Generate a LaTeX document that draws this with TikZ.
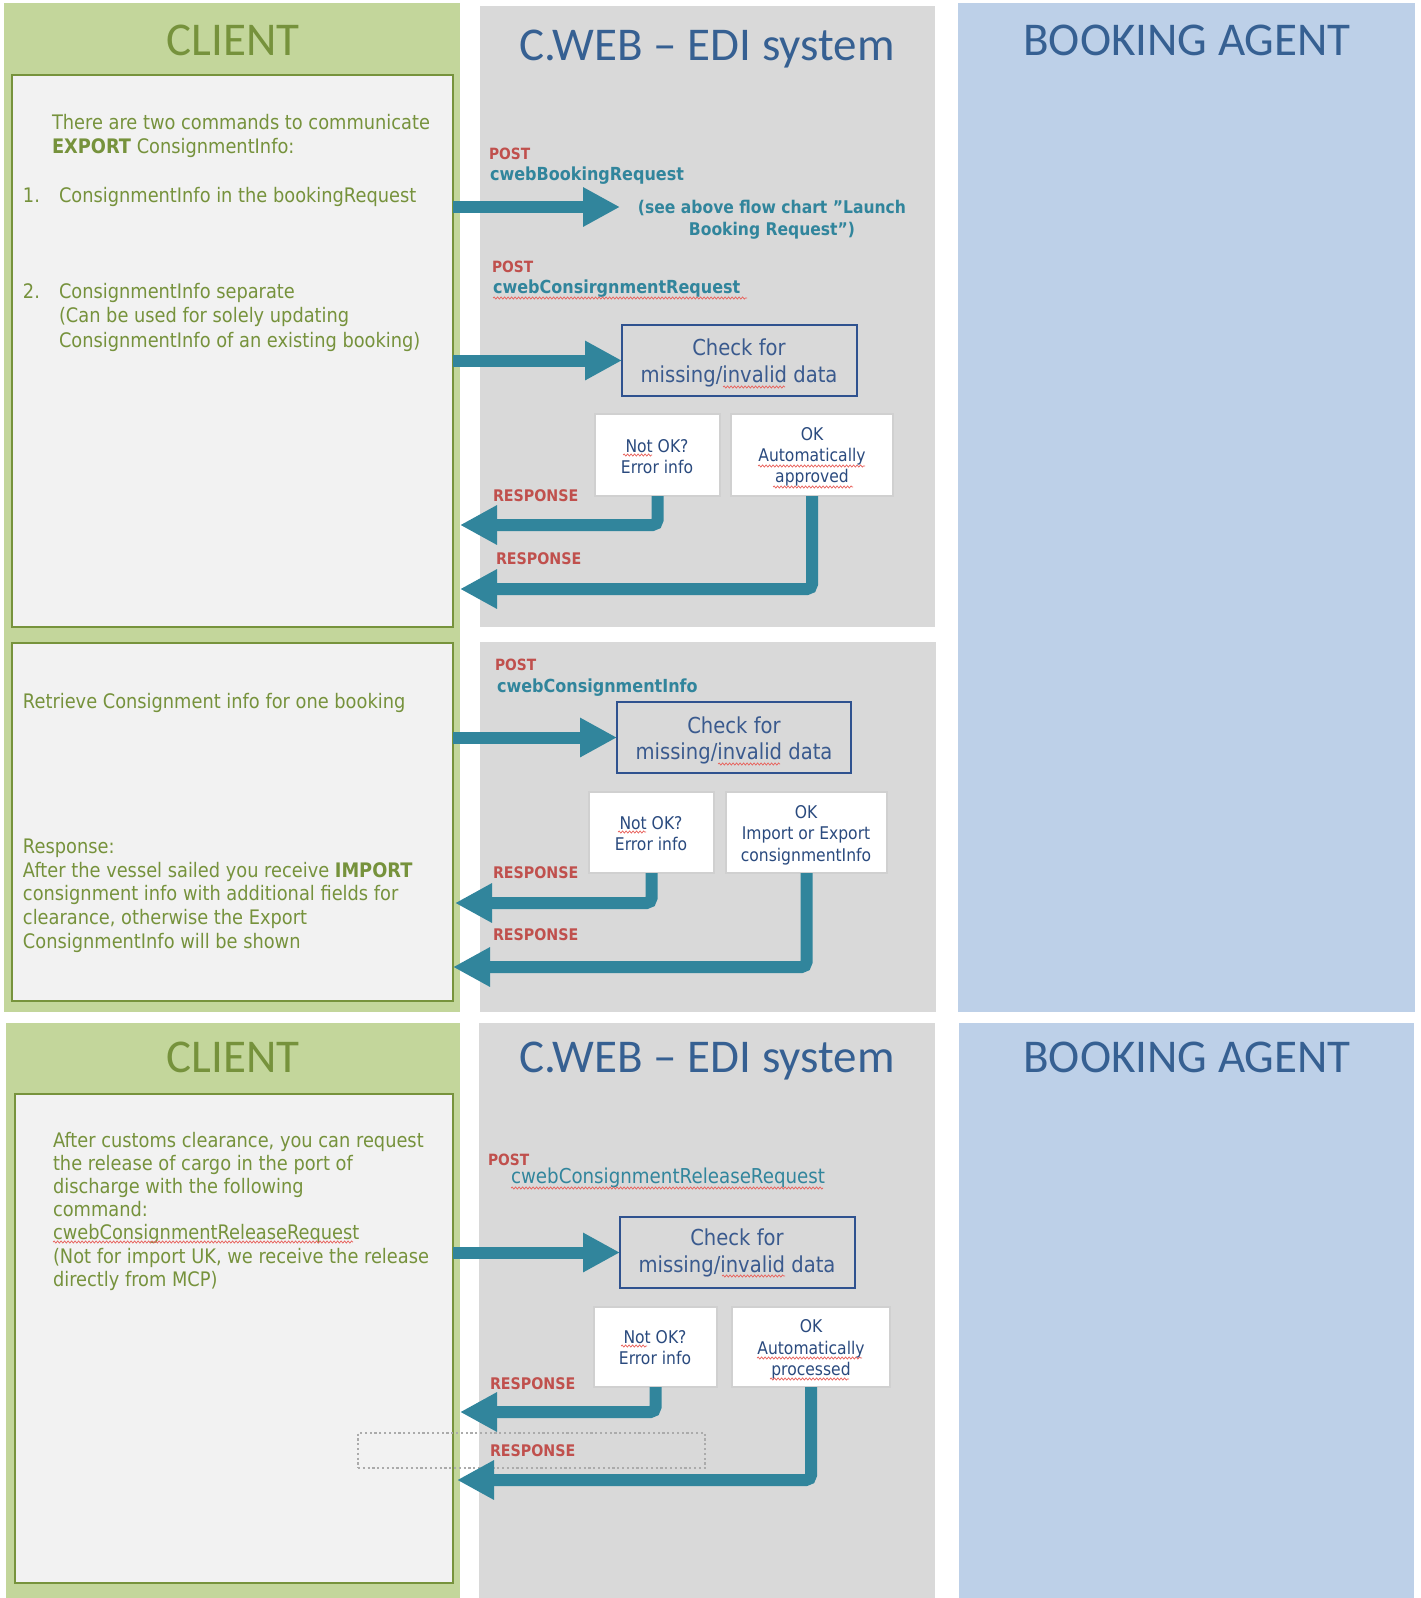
\documentclass[tikz,border=0pt]{standalone}
\usepackage{fontspec}
\setmainfont{DejaVu Sans}[FakeStretch=0.89]
\newfontfamily\titlef{Carlito}
\usetikzlibrary{arrows.meta,fit,decorations.pathmorphing}
\definecolor{gpanel}{HTML}{C3D69B}
\definecolor{ginner}{HTML}{F2F2F2}
\definecolor{gline}{HTML}{77933C}
\definecolor{olive}{HTML}{76923C}
\definecolor{greyp}{HTML}{D9D9D9}
\definecolor{bluep}{HTML}{BDD0E8}
\definecolor{titleblue}{HTML}{366092}
\definecolor{tealc}{HTML}{31859C}
\definecolor{redc}{HTML}{C0504D}
\definecolor{chkblue}{HTML}{2F528F}
\definecolor{chktext}{HTML}{3A5A8E}
\definecolor{boxtext}{HTML}{2A4A7E}
\definecolor{boxline}{HTML}{D0D0D0}
\definecolor{dotc}{HTML}{ABABAB}
\definecolor{squig}{HTML}{E8605A}
\tikzset{
  area/.style={inner sep=0pt, outer sep=0pt, draw=none},
  inbox/.style={area, fill=ginner, draw=gline, line width=1.5pt},
  chkbox/.style={area, draw=chkblue, line width=1.5pt},
  smbox/.style={area, fill=white, draw=boxline, line width=1.5pt},
  txt/.style={inner sep=0pt, outer sep=0pt, anchor=base west},
  ctxt/.style={inner sep=0pt, outer sep=0pt, anchor=base},
  ttl/.style={ctxt, font=\titlef\fontsize{47}{56}\selectfont},
  olv/.style={txt, text=olive, font=\fontsize{20}{24}\selectfont},
  cw/.style={txt, text=tealc, font=\bfseries\fontsize{18}{21}\selectfont},
  pst/.style={txt, text=redc, font=\bfseries\fontsize{15.5}{18}\selectfont},
  rsp/.style={txt, text=redc, font=\bfseries\fontsize{16}{19}\selectfont},
  seet/.style={ctxt, text=tealc, font=\bfseries\fontsize{17.5}{21}\selectfont},
  chkt/.style={ctxt, text=chktext, font=\fontsize{22}{26}\selectfont},
  smt/.style={ctxt, text=boxtext, font=\fontsize{17.5}{21}\selectfont},
  bigarrow/.style={draw=tealc, line width=12pt, rounded corners=5pt,
    -{Triangle[length=37pt,width=37pt]}},
  spell/.style={draw=squig, line width=0.7pt, decorate,
    decoration={snake, amplitude=1.1pt, segment length=3.5pt}},
}
\begin{document}
\begin{tikzpicture}[x=1pt,y=-1pt]
\useasboundingbox (0,0) rectangle (1421,1598);
% ---------- panels ----------
\node[area, fill=gpanel, fit={(4,3) (460,1012)}] (G1) {};
\node[area, fill=greyp, fit={(480,6) (935,627)}] (S1) {};
\node[area, fill=greyp, fit={(480,642) (936,1012)}] (S2) {};
\node[area, fill=bluep, fit={(958,3) (1415,1012)}] (BA1) {};
\node[area, fill=gpanel, fit={(6,1023) (460,1598)}] (G2) {};
\node[area, fill=greyp, fit={(479,1023) (935,1598)}] (S3) {};
\node[area, fill=bluep, fit={(959,1023) (1414,1598)}] (BA2) {};
\node[inbox, fit={(12,75) (453,627)}] (A) {};
\node[inbox, fit={(12,643) (453,1001)}] (B) {};
\node[inbox, fit={(15,1094) (453,1583)}] (C) {};
% ---------- titles ----------
\node[ttl, text=olive] (tc1) at (233,55) {CLIENT};
\node[ttl, text=titleblue] (ts1) at (707,60) {C.WEB – EDI system};
\node[ttl, text=titleblue] (tb1) at (1187,55) {BOOKING AGENT};
\node[ttl, text=olive] (tc2) at (233,1072) {CLIENT};
\node[ttl, text=titleblue] (ts2) at (707,1072) {C.WEB – EDI system};
\node[ttl, text=titleblue] (tb2) at (1187,1072) {BOOKING AGENT};
% ---------- client texts ----------
\node[olv] (a1) at (52,129) {There are two commands to communicate};
\node[olv] (a2) at (52,153) {{\bfseries EXPORT} ConsignmentInfo:};
\node[olv] (a3n) at (23,202) {1.};
\node[olv] (a3) at (59,202) {ConsignmentInfo in the bookingRequest};
\node[olv] (a4n) at (23,298) {2.};
\node[olv] (a4) at (59,298) {ConsignmentInfo separate};
\node[olv] (a5) at (59,322) {(Can be used for solely updating};
\node[olv] (a6) at (59,347) {ConsignmentInfo of an existing booking)};
\node[olv] (b1) at (23,708) {Retrieve Consignment info for one booking};
\node[olv] (b2) at (23,853) {Response:};
\node[olv] (b3) at (23,877) {After the vessel sailed you receive {\bfseries IMPORT}};
\node[olv] (b4) at (23,900) {consignment info with additional fields for};
\node[olv] (b5) at (23,924) {clearance, otherwise the Export};
\node[olv] (b6) at (23,948) {ConsignmentInfo will be shown};
\node[olv] (c1) at (53,1147) {After customs clearance, you can request};
\node[olv] (c2) at (53,1170) {the release of cargo in the port of};
\node[olv] (c3) at (53,1193) {discharge with the following};
\node[olv] (c4) at (53,1216) {command:};
\node[olv] (c5) at (53,1239) {cwebConsignmentReleaseRequest};
\node[olv] (c6) at (53,1263) {(Not for import UK, we receive the release};
\node[olv] (c7) at (53,1286) {directly from MCP)};
% ---------- section 1 system ----------
\node[pst] (p1) at (489,159) {POST};
\node[cw] (w1) at (490,180) {cwebBookingRequest};
\node[seet] (see1) at (772,213) {(see above flow chart \symbol{34}Launch};
\node[seet] (see2) at (772,235) {Booking Request”)};
\node[pst] (p2) at (492,272) {POST};
\node[cw] (w2) at (493,293) {cwebConsirgnmentRequest};
\node[chkbox, fit={(622,325) (857,396)}] (K1) {};
\node[chkt] (k1a) at (739,355) {Check for};
\node[chkt] (k1b) at (739,382) {missing/invalid data};
\node[smbox, fit={(595,414) (720,496)}] (N1) {};
\node[smt] (n1a) at (657,452) {Not OK?};
\node[smt] (n1b) at (657,473) {Error info};
\node[smbox, fit={(731,414) (893,496)}] (O1) {};
\node[smt] (o1a) at (812,440) {OK};
\node[smt] (o1b) at (812,461) {Automatically};
\node[smt] (o1c) at (812,482) {approved};
\node[rsp] (r1t) at (493,501) {RESPONSE};
\node[rsp] (r2t) at (496,564) {RESPONSE};
% ---------- section 2 system ----------
\node[pst] (p3) at (495,670) {POST};
\node[cw] (w3) at (497,692) {cwebConsignmentInfo};
\node[chkbox, fit={(617,702) (851,773)}] (K2) {};
\node[chkt] (k2a) at (734,733) {Check for};
\node[chkt] (k2b) at (734,759) {missing/invalid data};
\node[smbox, fit={(589,792) (714,873)}] (N2) {};
\node[smt] (n2a) at (651,829) {Not OK?};
\node[smt] (n2b) at (651,850) {Error info};
\node[smbox, fit={(726,792) (887,873)}] (O2) {};
\node[smt] (o2a) at (806,818) {OK};
\node[smt] (o2b) at (806,839) {Import or Export};
\node[smt] (o2c) at (806,861) {consignmentInfo};
\node[rsp] (r3t) at (493,878) {RESPONSE};
\node[rsp] (r4t) at (493,940) {RESPONSE};
% ---------- section 3 system ----------
\node[pst] (p4) at (488,1165) {POST};
\node[txt, text=tealc, font=\fontsize{20.5}{24}\selectfont] (w4) at (511,1183) {cwebConsignmentReleaseRequest};
\node[chkbox, fit={(620,1217) (855,1288)}] (K3) {};
\node[chkt] (k3a) at (737,1245) {Check for};
\node[chkt] (k3b) at (737,1272) {missing/invalid data};
\node[smbox, fit={(594,1307) (717,1387)}] (N3) {};
\node[smt] (n3a) at (655,1343) {Not OK?};
\node[smt] (n3b) at (655,1364) {Error info};
\node[smbox, fit={(732,1307) (890,1387)}] (O3) {};
\node[smt] (o3a) at (811,1332) {OK};
\node[smt] (o3b) at (811,1354) {Automatically};
\node[smt] (o3c) at (811,1375) {processed};
\node[draw=dotc, dash pattern=on 2.2pt off 2.6pt, line width=2.2pt, inner sep=0pt, fit={(358,1433) (705,1468)}] (dz) {};
\node[rsp] (r5t) at (490,1389) {RESPONSE};
\node[rsp] (r6t) at (490,1456) {RESPONSE};
% ---------- connectors ----------
\coordinate (q1) at (453,207);
\coordinate (e1) at (620,207);
\draw[bigarrow] (q1) -- (e1);
\draw[bigarrow] (A.east |- K1.west) -- (K1.west);
\draw[bigarrow] (B.east |- K2.west) -- (K2.west);
\draw[bigarrow] (C.east |- K3.west) -- (K3.west);
\coordinate (e2) at (460,525);
\coordinate (e3) at (460,589);
\coordinate (e4) at (455,903);
\coordinate (e5) at (453,967);
\coordinate (e6) at (460,1412);
\coordinate (e7) at (457,1480);
\draw[bigarrow] (N1.south) |- (e2);
\draw[bigarrow] (O1.south) |- (e3);
\draw[bigarrow] (N2.south) |- (e4);
\draw[bigarrow] (O2.south) |- (e5);
\draw[bigarrow] (N3.south) |- (e6);
\draw[bigarrow] (O3.south) |- (e7);
% ---------- spell-check underlines ----------
\path[spell] (493,298) -- (747,298);
\path[spell] (723,387) -- (785,387);
\path[spell] (623,455) -- (652,455);
\path[spell] (758,466) -- (865,466);
\path[spell] (773,487) -- (853,487);
\path[spell] (718,764) -- (780,764);
\path[spell] (618,832) -- (646,832);
\path[spell] (53,1242) -- (353,1242);
\path[spell] (511,1188) -- (823,1188);
\path[spell] (722,1276) -- (785,1276);
\path[spell] (621,1346) -- (647,1346);
\path[spell] (757,1358) -- (862,1358);
\path[spell] (770,1379) -- (849,1379);
\end{tikzpicture}
\end{document}
